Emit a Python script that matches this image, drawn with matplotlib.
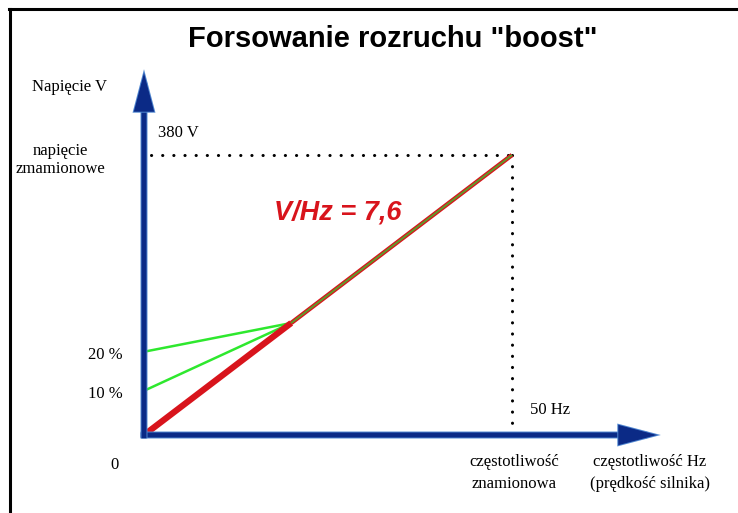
import matplotlib
matplotlib.use("Agg")
import matplotlib.pyplot as plt
from matplotlib.lines import Line2D
import matplotlib.patheffects as pe

# data (diagram is not to scale)
f_nom = 50          # Hz
v_nom = 380         # V
vhz = 7.6           # V/Hz
f_knee = 20         # Hz, where boost lines join the V/f line
boost_labels = ["20 %", "10 %"]
boost_start = [113, 60]   # V at 0 Hz (drawn height)

serif = "Liberation Serif"
sans = "Liberation Sans"

fig = plt.figure(figsize=(7.38, 5.13), dpi=100)
ax = fig.add_axes([0, 0, 1, 1])
ax.set_axis_off()

# map origin to pixel (144, 435), (50 Hz, 380 V) to (512, 155)
x0, y0 = 144, 435
px_hz = (512 - x0) / f_nom
px_v = (y0 - 155) / v_nom
ax.set_xlim(-x0 / px_hz, (738 - x0) / px_hz)
ax.set_ylim(-(513 - y0) / px_v, y0 / px_v)

# border (top and left only)
fig.add_artist(Line2D([9 / 738, 1], [1 - 9 / 513, 1 - 9 / 513], color="black", lw=2.2))
fig.add_artist(Line2D([10 / 738, 10 / 738], [0, 1 - 9 / 513], color="black", lw=2.2))

# dotted guides
dot = dict(color="black", lw=2.2, linestyle=(0, (0.05, 3.6)), dash_capstyle="round")
ax.plot([1, f_nom], [v_nom, v_nom], **dot)
ax.plot([f_nom, f_nom], [v_nom, 16], **dot)

# V/f line
v_knee = vhz * f_knee
ax.plot([0, f_knee], [0, v_knee], color="#d8141c", lw=4.5, solid_capstyle="butt", zorder=4)
ax.plot([f_knee, f_nom], [v_knee, v_nom], color="#d8141c", lw=3.2, solid_capstyle="butt", zorder=4)
ax.plot([f_knee, f_nom], [v_knee, v_nom], color="#5f9a2a", lw=1.4, solid_capstyle="butt", zorder=5)

# boost lines
for v0 in boost_start:
    ax.plot([0, f_knee], [v0, v_knee], color="#2ee82e", lw=1.8, zorder=3)

# axes arrows
arrow = dict(arrowstyle="-|>,head_length=1.9,head_width=0.5", lw=3.6, color="#0b2a86",
             shrinkA=0, shrinkB=0, joinstyle="miter", capstyle="butt",
             path_effects=[pe.Stroke(linewidth=5.0, foreground="#4f86d0"), pe.Normal()])
ax.annotate("", xy=((657 - x0) / px_hz, 0), xytext=(-0.45, 0), arrowprops=arrow, zorder=6)
ax.annotate("", xy=(0, (y0 - 73) / px_v), xytext=(0, -4.5), arrowprops=arrow, zorder=6)

# title
fig.text(393 / 738, 1 - 39 / 513, 'Forsowanie rozruchu "boost"', family=sans,
         fontweight="bold", fontsize=21, ha="center", va="center")

# red annotation
ax.text(17.7, 302, "V/Hz = 7,6", family=sans, fontweight="bold", style="italic",
        fontsize=19.5, color="#d8141c", ha="left", va="center")

fs = 12
ax.text(-10.1, (y0 - 87) / px_v, "Napięcie V", family=serif, fontsize=fs, ha="center", va="center")
ax.text(-11.4, (y0 - 160) / px_v, "napięcie\nzmamionowe", family=serif, fontsize=fs,
        ha="center", va="center", linespacing=1.2)
ax.text(1.9, v_nom + 22 / px_v, f"{v_nom} V", family=serif, fontsize=fs, ha="left", va="center")
for lab, v0 in zip(boost_labels, boost_start):
    ax.text(-2.9, v0 - 3 / px_v, lab, family=serif, fontsize=fs, ha="right", va="center")
ax.text(-3.4, -30 / px_v, "0", family=serif, fontsize=fs, ha="right", va="center")
ax.text(f_nom + 2.4, 25 / px_v, f"{f_nom} Hz", family=serif, fontsize=fs, ha="left", va="center")
ax.text(f_nom + 0.3, -38 / px_v, "częstotliwość\nznamionowa", family=serif, fontsize=fs,
        ha="center", va="center", linespacing=1.45)
ax.text((650 - x0) / px_hz, -38 / px_v, "częstotliwość Hz\n(prędkość silnika)", family=serif,
        fontsize=fs, ha="center", va="center", linespacing=1.45)

fig.savefig("out.png", dpi=100)
